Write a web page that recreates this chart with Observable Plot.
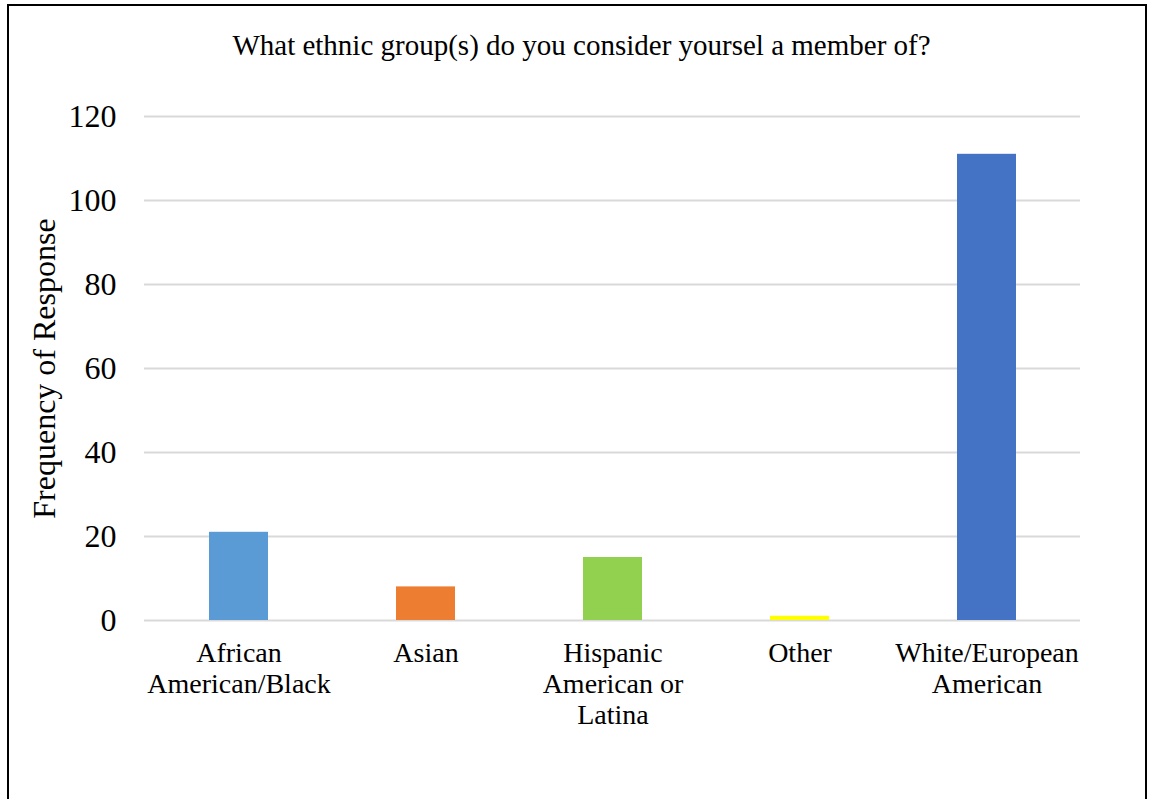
<!DOCTYPE html>
<html><head><meta charset="utf-8">
<script src="https://cdn.jsdelivr.net/npm/d3@7"></script>
<script src="https://cdn.jsdelivr.net/npm/@observablehq/plot@0.6"></script>
<style>
html,body{margin:0;padding:0;background:#fff;overflow:hidden;width:1149px;height:799px}
#frame{position:absolute;left:7px;top:4px;width:1140px;height:900px;border:2px solid #000;box-sizing:border-box}
#title{position:absolute;left:0;width:1163px;top:29px;text-align:center;font-family:"Liberation Serif","Times New Roman",serif;font-size:29px;line-height:32px;color:#000}
#chart{position:absolute;left:0;top:0}
</style></head><body>
<div id="frame"></div>
<div id="title"></div>
<div id="chart"></div>
<script>
const titleText = "What ethnic group(s) do you consider yoursel a member of?";
const categories = ["African American/Black", "Asian", "Hispanic American or Latina", "Other", "White/European American"];
const categoryLabels = ["African\nAmerican/Black", "Asian", "Hispanic\nAmerican or\nLatina", "Other", "White/European\nAmerican"];
const values = [21, 8, 15, 1, 111];
const colors = ["#5B9BD5", "#ED7D31", "#92D050", "#FFFF00", "#4472C4"];
const yTicks = [0, 20, 40, 60, 80, 100, 120];
const yLabel = "Frequency of Response";

document.getElementById("title").textContent = titleText;

const data = categories.map((c, i) => ({category: c, label: categoryLabels[i], value: values[i]}));

const chart = Plot.plot({
  width: 1149, height: 799,
  marginTop: 116, marginBottom: 179, marginLeft: 144, marginRight: 69,
  style: {fontFamily: '"Liberation Serif", "Times New Roman", serif', color: "#000", background: "transparent"},
  x: {domain: categories, paddingInner: 0.685, paddingOuter: 0.3425, axis: null},
  y: {domain: [0, 120], axis: null},
  color: {domain: categories, range: colors},
  marks: [
    Plot.gridY(yTicks, {stroke: "#d9d9d9", strokeOpacity: 1, strokeWidth: 2}),
    Plot.barY(data, {x: "category", y: "value", fill: "category"}),
    Plot.axisY(yTicks, {tickSize: 0, tickPadding: 28, fontSize: 32, fill: "#000", tickFormat: d => String(d), label: null}),
    Plot.text(data, {x: "category", text: "label", frameAnchor: "bottom", lineAnchor: "top", dy: 19, fontSize: 28, lineHeight: 1.12, fill: "#000"}),
    Plot.text([yLabel], {frameAnchor: "left", text: d => d, rotate: -90, dx: -100, textAnchor: "middle", fontSize: 32, fill: "#000"})
  ]
});
document.getElementById("chart").appendChild(chart);
</script>
</body></html>
